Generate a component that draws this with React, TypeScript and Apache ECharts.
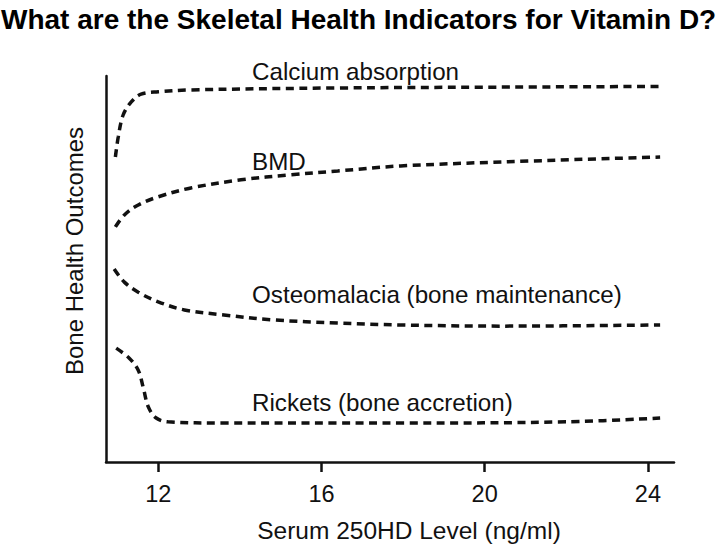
import React, { useEffect, useRef } from "react";
import * as echarts from "echarts";

const titleText = "What are the Skeletal Health Indicators for Vitamin D?";
const xAxisTitle = "Serum 250HD Level (ng/ml)";
const yAxisTitle = "Bone Health Outcomes";
const xTicks = [12, 16, 20, 24];

const calcium: number[][] = [
  [10.95, 79.0], [11.02, 84.2], [11.14, 89.9], [11.34, 93.3], [11.58, 95.3],
  [12.0, 95.9], [12.8, 96.4], [16.4, 96.9], [20.0, 97.1], [24.37, 97.3],
];
const bmd: number[][] = [
  [10.95, 60.9], [11.17, 64.0], [11.51, 66.6], [12.0, 68.7], [12.8, 71.0],
  [14.03, 73.1], [15.25, 74.4], [16.4, 75.4], [17.94, 76.7], [21.19, 78.0], [24.3, 79.0],
];
const osteomalacia: number[][] = [
  [10.92, 50.0], [11.17, 46.6], [11.51, 44.0], [12.0, 41.5], [12.64, 39.4],
  [13.61, 38.1], [14.84, 36.8], [16.4, 36.0], [17.94, 35.5], [20.39, 35.2], [24.3, 35.5],
];
const rickets: number[][] = [
  [10.97, 29.5], [11.29, 26.9], [11.51, 23.8], [11.63, 19.4], [11.76, 14.2],
  [11.95, 11.4], [12.24, 10.4], [13.61, 10.1], [16.4, 10.1], [17.94, 10.1],
  [22.0, 10.4], [24.3, 11.4],
];

const curveLabels = [
  { text: "Calcium absorption", x: 252, y: 71 },
  { text: "BMD", x: 252, y: 161 },
  { text: "Osteomalacia (bone maintenance)", x: 252, y: 294 },
  { text: "Rickets (bone accretion)", x: 252, y: 402 },
];

const FONT = "'Liberation Sans', Arial, Helvetica, sans-serif";

export default function App() {
  const ref = useRef<HTMLDivElement>(null);
  useEffect(() => {
    if (!ref.current) return;
    const chart = echarts.init(ref.current, undefined, { renderer: "svg" });
    const mkSeries = (name: string, data: number[][]) => ({
      name,
      type: "line",
      data,
      smooth: 0.35,
      showSymbol: false,
      symbol: "none",
      lineStyle: { color: "#111", width: 3.5, type: [8, 5.5] },
    });
    chart.setOption({
      animation: false,
      backgroundColor: "#ffffff",
      title: {
        text: titleText,
        left: 1,
        top: 5,
        padding: 0,
        textStyle: { fontFamily: FONT, fontWeight: "bold", fontSize: 28, color: "#000" },
      },
      grid: { left: 106, right: 46, top: 76, bottom: 86, containLabel: false, outerBoundsMode: "none" },
      xAxis: {
        type: "value",
        min: 10.72,
        max: 24.64,
        splitLine: { show: false },
        axisLine: { show: true, onZero: false, lineStyle: { color: "#111", width: 2.5 } },
        axisTick: { show: true, customValues: xTicks, length: 10, lineStyle: { color: "#111", width: 2.5 } },
        axisLabel: {
          customValues: xTicks,
          margin: 20,
          fontFamily: FONT,
          fontSize: 23.5,
          color: "#111",
        },
      },
      yAxis: {
        type: "value",
        min: 0,
        max: 100,
        splitLine: { show: false },
        axisLine: { show: true, lineStyle: { color: "#111", width: 2.5 } },
        axisTick: { show: false },
        axisLabel: { show: false },
      },
      graphic: [
        ...curveLabels.map((l) => ({
          type: "text",
          x: l.x,
          y: l.y,
          style: { text: l.text, fontFamily: FONT, fontSize: 24.2, fill: "#111", verticalAlign: "middle", align: "left" },
        })),
        {
          type: "text",
          x: 409,
          y: 530,
          style: { text: xAxisTitle, fontFamily: FONT, fontSize: 24.5, fill: "#111", align: "center", verticalAlign: "middle" },
        },
        {
          type: "text",
          x: 74,
          y: 251,
          rotation: Math.PI / 2,
          style: { text: yAxisTitle, fontFamily: FONT, fontSize: 24, fill: "#111", align: "center", verticalAlign: "middle" },
        },
      ],
      series: [
        mkSeries("Calcium absorption", calcium),
        mkSeries("BMD", bmd),
        mkSeries("Osteomalacia", osteomalacia),
        mkSeries("Rickets", rickets),
      ],
    });
    return () => chart.dispose();
  }, []);
  return (
    <div
      ref={ref}
      style={{ position: "fixed", left: 0, top: 0, width: 720, height: 548, background: "#fff" }}
    />
  );
}
